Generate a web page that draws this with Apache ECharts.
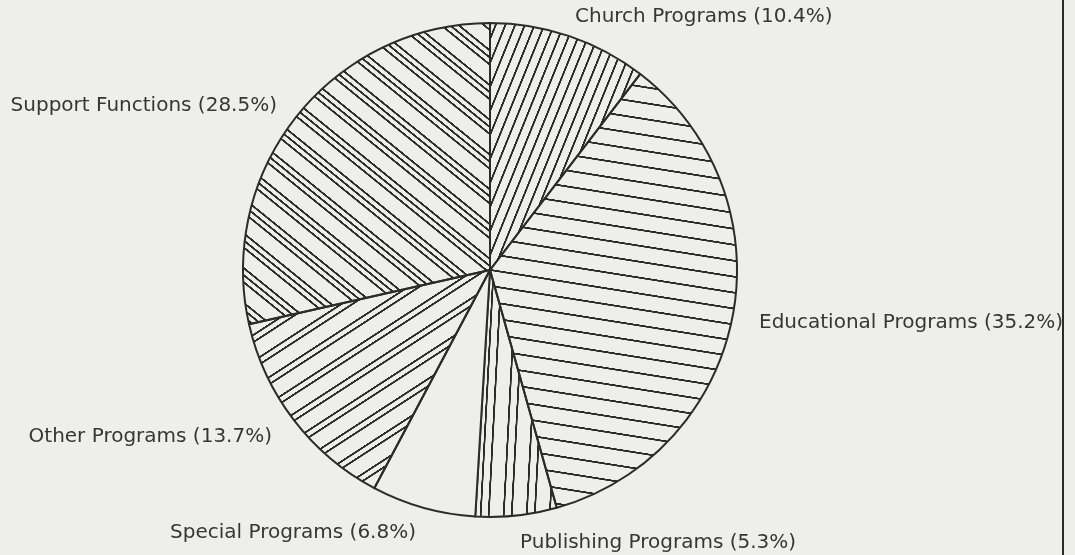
<!DOCTYPE html>
<html>
<head>
<meta charset="utf-8">
<script src="https://cdn.jsdelivr.net/npm/echarts@6/dist/echarts.min.js"></script>
<style>
  html, body { margin: 0; padding: 0; background: #eeeeeb; }
  #chart { width: 1075px; height: 555px; }
</style>
</head>
<body>
<div id="chart"></div>
<script>
// ---- data ----
const categories = ['Church Programs', 'Educational Programs', 'Publishing Programs', 'Special Programs', 'Other Programs', 'Support Functions'];
const shares = [10.4, 35.2, 5.3, 6.8, 13.7, 28.5];

// ---- styling (hatch patterns: angle in degrees, period, line offsets) ----
const hatchAngles = [-68, 9, -87, 0, -33, 39];
const hatchPeriods = [9, 15.8, 23, 0, 22, 27];
const hatchOffsets = [[0], [0], [0, 8], [], [0, 6], [0, 5.5, 11]];
// label anchor placement (x, y, align)
const labelPlace = [
  [575, 17, 'left'],
  [759, 323, 'left'],
  [520, 543, 'left'],
  [416, 533, 'right'],
  [272, 437, 'right'],
  [277, 106, 'right']
];

const ink = '#2b2b2b';
const bg = '#eeeeeb';

function hatch(angleDeg, period, offsets) {
  if (!period) return bg;
  const scale = 4;
  const c = document.createElement('canvas');
  c.width = 8 * scale;
  c.height = Math.round(period * scale);
  const ctx = c.getContext('2d');
  ctx.fillStyle = ink;
  offsets.forEach(function (o) {
    ctx.fillRect(0, Math.round(o * scale), c.width, 1.9 * scale);
  });
  return {
    image: c,
    repeat: 'repeat',
    rotation: angleDeg * Math.PI / 180,
    scaleX: 1 / scale,
    scaleY: 1 / scale
  };
}

const chart = echarts.init(document.getElementById('chart'), null, { renderer: 'canvas' });
const data = categories.map(function (name, i) {
  return {
    name: name,
    value: shares[i],
    itemStyle: { color: hatch(hatchAngles[i], hatchPeriods[i], hatchOffsets[i]) }
  };
});

chart.setOption({
  backgroundColor: bg,
  animation: false,
  graphic: [{
    type: 'line',
    shape: { x1: 1063, y1: 0, x2: 1063, y2: 555 },
    style: { stroke: ink, lineWidth: 2 }
  }],
  series: [{
    type: 'pie',
    center: [490, 270],
    radius: 247,
    startAngle: 90,
    clockwise: true,
    avoidLabelOverlap: false,
    itemStyle: { borderColor: ink, borderWidth: 2 },
    emphasis: { disabled: true },
    label: {
      show: true,
      position: 'outside',
      formatter: '{b} ({c}%)',
      fontFamily: 'DejaVu Sans',
      fontSize: 20,
      color: '#363636'
    },
    labelLine: { show: false },
    labelLayout: function (params) {
      const p = labelPlace[params.dataIndex];
      return { x: p[0], y: p[1], align: p[2], verticalAlign: 'middle' };
    },
    data: data
  }]
});
</script>
</body>
</html>
